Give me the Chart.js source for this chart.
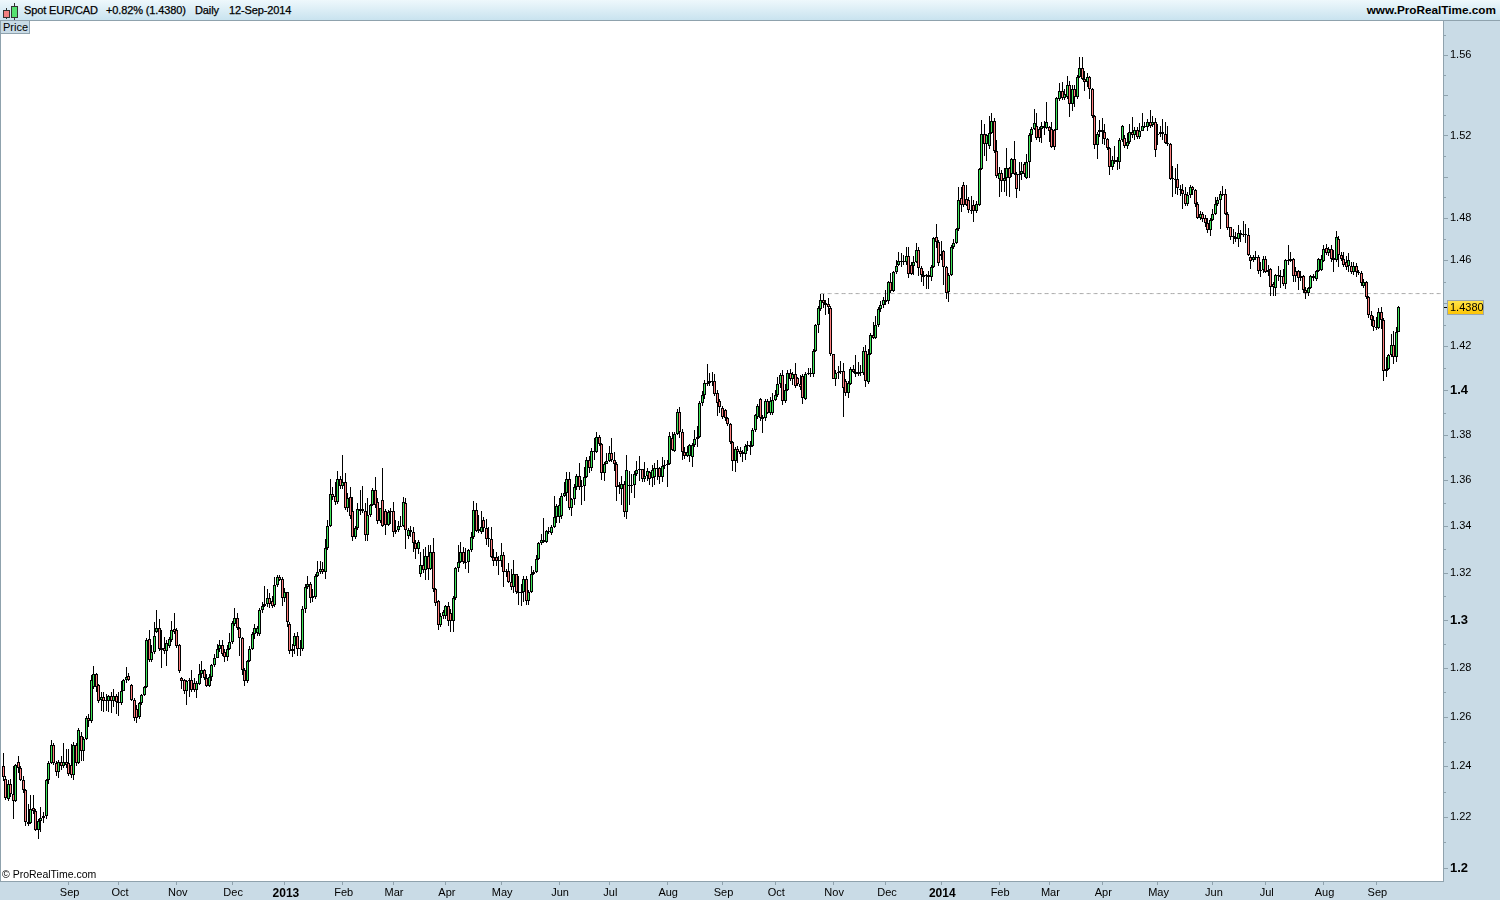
<!DOCTYPE html>
<html>
<head>
<meta charset="utf-8">
<title>Spot EUR/CAD</title>
<script src="https://cdn.jsdelivr.net/npm/chart.js@4/dist/chart.umd.min.js"></script>
<style>
    html, body { margin: 0; padding: 0; background: #c9dbe6; overflow: hidden; }
    body { width: 1500px; height: 900px; position: relative; font-family: "Liberation Sans", Arial, sans-serif; font-size: 11px; color: #000; }
    #priceChart { position: absolute; left: 0; top: 0; }
    #header { position: absolute; left: 0; top: 0; width: 1500px; height: 20px; background: linear-gradient(#eef8fc, #c9e3ef); border-bottom: 1px solid #8fa2ad; }
    #header span { position: absolute; top: 4px; white-space: nowrap; letter-spacing: -0.12px; -webkit-text-stroke: 0.25px #000; }
    #header #site { right: 4px; top: 3px; font-weight: bold; font-size: 11.75px; letter-spacing: 0; -webkit-text-stroke: 0; }
    .icon { position: absolute; border: 1px solid #333; }
    .iconWick { position: absolute; width: 1px; background: #333; }
    #priceTab { position: absolute; left: 1px; top: 21px; width: 26px; height: 12px; line-height: 12px; padding-left: 2px; background: #c9dbe6; border-right: 1px solid #8fa2ad; border-bottom: 1px solid #8fa2ad; }
    #copyright { position: absolute; left: 2px; top: 868px; font-size: 10.5px; }
</style>
</head>
<body>
<canvas id="priceChart" width="1500" height="900"></canvas>
<div id="header">
    <div class="iconWick" style="left:6px;top:8px;height:11px"></div>
    <div class="icon" style="left:3px;top:10px;width:5px;height:6px;background:#f08080"></div>
    <div class="iconWick" style="left:14px;top:3px;height:17px"></div>
    <div class="icon" style="left:11px;top:6px;width:5px;height:10px;background:#55e070"></div>
    <span style="left:24px">Spot EUR/CAD</span>
    <span style="left:106px">+0.82% (1.4380)</span>
    <span style="left:195px">Daily</span>
    <span style="left:229px">12-Sep-2014</span>
    <span id="site">www.ProRealTime.com</span>
</div>
<div id="priceTab">Price</div>
<div id="copyright">© ProRealTime.com</div>

<script>
// Daily candles, first one is 27-Jul-2012
const firstDate = '2012-07-27';
const slotCount = 573;

const opens = [
    1.2400,1.2350,1.2272,1.2329,1.2291,1.2264,1.2418,1.2393,1.2347,1.2305,
    1.2180,1.2177,1.2235,1.2222,1.2148,1.2182,1.2195,1.2204,1.2346,1.2415,
    1.2486,1.2415,1.2377,1.2418,1.2400,1.2418,1.2412,1.2405,1.2365,1.2486,
    1.2415,1.2522,1.2462,1.2512,1.2594,1.2582,1.2720,1.2775,1.2730,1.2667,
    1.2679,1.2670,1.2665,1.2685,1.2665,1.2685,1.2660,1.2655,1.2707,1.2751,
    1.2766,1.2732,1.2670,1.2630,1.2598,1.2655,1.2690,1.2722,1.2920,1.2832,
    1.2867,1.2950,1.2966,1.2885,1.2885,1.2870,1.2893,1.2918,1.2961,1.2960,
    1.2895,1.2760,1.2752,1.2705,1.2745,1.2750,1.2740,1.2708,1.2735,1.2775,
    1.2790,1.2760,1.2725,1.2765,1.2812,1.2843,1.2880,1.2895,1.2865,1.2845,
    1.2880,1.2908,1.2985,1.3008,1.2965,1.2925,1.2790,1.2745,1.2830,1.2880,
    1.2940,1.2945,1.2940,1.3040,1.3060,1.3066,1.3094,1.3082,1.3062,1.3147,
    1.3183,1.3173,1.3094,1.3116,1.2985,1.2870,1.2890,1.2934,1.2880,1.2880,
    1.3048,1.3140,1.3154,1.3091,1.3097,1.3187,1.3205,1.3215,1.3203,1.3305,
    1.3402,1.3540,1.3530,1.3505,1.3603,1.3574,1.3592,1.3480,1.3525,1.3465,
    1.3353,1.3392,1.3475,1.3475,1.3465,1.3363,1.3447,1.3490,1.3558,1.3505,
    1.3422,1.3513,1.3465,1.3405,1.3463,1.3465,1.3373,1.3385,1.3400,1.3402,
    1.3500,1.3356,1.3385,1.3375,1.3325,1.3300,1.3194,1.3233,1.3212,1.3273,
    1.3216,1.3287,1.3130,1.3078,1.2980,1.3016,1.3016,1.3060,1.3030,1.2994,
    1.3091,1.3220,1.3245,1.3287,1.3245,1.3247,1.3295,1.3352,1.3470,1.3380,
    1.3375,1.3425,1.3393,1.3350,1.3346,1.3267,1.3265,1.3250,1.3252,1.3277,
    1.3208,1.3208,1.3160,1.3140,1.3194,1.3118,1.3120,1.3116,1.3172,1.3080,
    1.3118,1.3195,1.3205,1.3260,1.3325,1.3340,1.3330,1.3380,1.3368,1.3397,
    1.3438,1.3440,1.3443,1.3530,1.3542,1.3607,1.3477,1.3516,1.3568,1.3620,
    1.3568,1.3574,1.3612,1.3691,1.3655,1.3728,1.3725,1.3791,1.3760,1.3630,
    1.3672,1.3685,1.3720,1.3690,1.3672,1.3578,1.3560,1.3585,1.3462,1.3580,
    1.3578,1.3578,1.3629,1.3645,1.3647,1.3607,1.3620,1.3636,1.3610,1.3612,
    1.3655,1.3655,1.3612,1.3661,1.3665,1.3670,1.3785,1.3730,1.3803,1.3901,
    1.3815,1.3725,1.3705,1.3705,1.3702,1.3755,1.3780,1.3790,1.3945,1.3980,
    1.4035,1.4035,1.4040,1.4040,1.3990,1.3950,1.3920,1.3912,1.3875,1.3850,
    1.3768,1.3685,1.3737,1.3730,1.3715,1.3715,1.3750,1.3757,1.3750,1.3820,
    1.3880,1.3960,1.3880,1.3875,1.3950,1.3900,1.3900,1.3958,1.3978,1.4030,
    1.4070,1.3950,1.4003,1.4080,1.4050,1.4075,1.4055,1.4030,1.4065,1.3960,
    1.4075,1.4080,1.4075,1.4178,1.4300,1.4372,1.4416,1.4400,1.4395,1.4378,
    1.4163,1.4053,1.4080,1.4085,1.4088,1.4040,1.3990,1.4030,1.4095,1.4085,
    1.4075,1.4082,1.4080,1.4180,1.4038,1.4165,1.4250,1.4240,1.4297,1.4372,
    1.4392,1.4415,1.4410,1.4500,1.4455,1.4543,1.4580,1.4595,1.4590,1.4590,
    1.4622,1.4580,1.4575,1.4590,1.4650,1.4565,1.4530,1.4525,1.4530,1.4520,
    1.4570,1.4710,1.4685,1.4630,1.4645,1.4570,1.4450,1.4530,1.4665,1.4680,
    1.4748,1.4895,1.4960,1.4892,1.4886,1.4840,1.4865,1.4832,1.4865,1.5037,
    1.5208,1.5158,1.5150,1.5212,1.5272,1.5125,1.4987,1.5016,1.4979,1.4992,
    1.5040,1.5013,1.5086,1.5011,1.5010,1.5011,1.5062,1.4995,1.5070,1.5204,
    1.5233,1.5245,1.5233,1.5233,1.5245,1.5238,1.5240,1.5233,1.5228,1.5228,
    1.5380,1.5419,1.5385,1.5390,1.5451,1.5354,1.5432,1.5391,1.5492,1.5533,
    1.5481,1.5465,1.5490,1.5428,1.5297,1.5155,1.5215,1.5225,1.5215,1.5185,
    1.5140,1.5045,1.5080,1.5070,1.5070,1.5178,1.5190,1.5150,1.5168,1.5218,
    1.5200,1.5225,1.5192,1.5223,1.5245,1.5240,1.5265,1.5250,1.5265,1.5205,
    1.5205,1.5215,1.5205,1.5165,1.5158,1.4990,1.4990,1.4990,1.4942,1.4935,
    1.4915,1.4868,1.4910,1.4950,1.4933,1.4870,1.4802,1.4820,1.4800,1.4778,
    1.4742,1.4790,1.4820,1.4868,1.4885,1.4918,1.4915,1.4822,1.4757,1.4712,
    1.4712,1.4700,1.4727,1.4720,1.4725,1.4722,1.4615,1.4600,1.4615,1.4615,
    1.4550,1.4552,1.4605,1.4555,1.4560,1.4490,1.4470,1.4530,1.4525,1.4527,
    1.4487,1.4600,1.4598,1.4605,1.4550,1.4550,1.4518,1.4525,1.4460,1.4445,
    1.4470,1.4515,1.4510,1.4550,1.4555,1.4598,1.4660,1.4635,1.4655,1.4612,
    1.4603,1.4700,1.4625,1.4605,1.4590,1.4575,1.4575,1.4545,1.4575,1.4545,
    1.4540,1.4480,1.4500,1.4428,1.4345,1.4322,1.4288,1.4285,1.4360,1.4322,
    1.4088,1.4098,1.4160,1.4205,1.4153,1.4267
];

const closes = [
    1.2357,1.2273,1.2329,1.2291,1.2264,1.2404,1.2393,1.2347,1.2305,1.2180,
    1.2172,1.2230,1.2222,1.2148,1.2182,1.2195,1.2205,1.2346,1.2415,1.2486,
    1.2415,1.2377,1.2418,1.2400,1.2418,1.2405,1.2368,1.2365,1.2486,1.2415,
    1.2547,1.2462,1.2512,1.2594,1.2582,1.2751,1.2775,1.2720,1.2665,1.2679,
    1.2665,1.2665,1.2685,1.2665,1.2685,1.2660,1.2655,1.2707,1.2751,1.2765,
    1.2752,1.2670,1.2595,1.2595,1.2655,1.2690,1.2722,1.2917,1.2832,1.2867,
    1.2935,1.2965,1.2880,1.2875,1.2870,1.2905,1.2920,1.2957,1.2950,1.2892,
    1.2787,1.2745,1.2705,1.2745,1.2750,1.2710,1.2708,1.2738,1.2775,1.2790,
    1.2758,1.2725,1.2765,1.2813,1.2843,1.2880,1.2895,1.2860,1.2845,1.2880,
    1.2908,1.2988,1.3008,1.2965,1.2925,1.2790,1.2745,1.2830,1.2880,1.2940,
    1.2968,1.2968,1.3040,1.3060,1.3066,1.3094,1.3066,1.3060,1.3147,1.3183,
    1.3170,1.3094,1.3116,1.2992,1.2870,1.2880,1.2934,1.2880,1.2885,1.3048,
    1.3140,1.3154,1.3091,1.3100,1.3187,1.3205,1.3215,1.3205,1.3305,1.3402,
    1.3540,1.3528,1.3505,1.3603,1.3574,1.3592,1.3480,1.3520,1.3444,1.3353,
    1.3392,1.3475,1.3465,1.3465,1.3363,1.3447,1.3490,1.3558,1.3492,1.3422,
    1.3477,1.3402,1.3405,1.3463,1.3465,1.3373,1.3385,1.3400,1.3402,1.3503,
    1.3382,1.3385,1.3375,1.3325,1.3300,1.3330,1.3233,1.3212,1.3273,1.3216,
    1.3287,1.3130,1.3073,1.2980,1.3016,1.3034,1.3060,1.2994,1.2994,1.3091,
    1.3220,1.3245,1.3287,1.3245,1.3247,1.3295,1.3352,1.3470,1.3380,1.3388,
    1.3397,1.3393,1.3346,1.3345,1.3267,1.3248,1.3248,1.3255,1.3277,1.3201,
    1.3202,1.3160,1.3140,1.3194,1.3118,1.3116,1.3115,1.3172,1.3080,1.3118,
    1.3194,1.3205,1.3260,1.3325,1.3340,1.3330,1.3380,1.3380,1.3397,1.3438,
    1.3487,1.3490,1.3530,1.3542,1.3607,1.3477,1.3516,1.3568,1.3617,1.3568,
    1.3575,1.3612,1.3691,1.3655,1.3728,1.3725,1.3791,1.3760,1.3630,1.3672,
    1.3685,1.3718,1.3688,1.3672,1.3568,1.3570,1.3585,1.3462,1.3643,1.3578,
    1.3580,1.3629,1.3645,1.3650,1.3607,1.3620,1.3640,1.3607,1.3643,1.3655,
    1.3650,1.3612,1.3661,1.3665,1.3670,1.3795,1.3735,1.3803,1.3901,1.3815,
    1.3725,1.3705,1.3722,1.3755,1.3755,1.3780,1.3790,1.3945,1.3980,1.4035,
    1.4035,1.4040,1.4040,1.3985,1.3945,1.3925,1.3880,1.3875,1.3850,1.3768,
    1.3685,1.3737,1.3725,1.3715,1.3722,1.3750,1.3757,1.3745,1.3820,1.3890,
    1.3930,1.3875,1.3872,1.3950,1.3900,1.3950,1.3958,1.3980,1.4030,1.4070,
    1.3950,1.4003,1.4080,1.4050,1.4075,1.4018,1.4030,1.4015,1.3965,1.4075,
    1.4080,1.4078,1.4178,1.4300,1.4378,1.4416,1.4400,1.4390,1.4380,1.4163,
    1.4053,1.4080,1.4085,1.4088,1.4010,1.3990,1.4033,1.4095,1.4085,1.4075,
    1.4085,1.4080,1.4180,1.4040,1.4165,1.4250,1.4240,1.4297,1.4372,1.4392,
    1.4415,1.4405,1.4500,1.4455,1.4543,1.4573,1.4595,1.4590,1.4595,1.4620,
    1.4535,1.4535,1.4590,1.4650,1.4565,1.4530,1.4520,1.4530,1.4520,1.4570,
    1.4705,1.4685,1.4585,1.4620,1.4570,1.4445,1.4530,1.4665,1.4680,1.4748,
    1.4886,1.4865,1.4865,1.4865,1.4840,1.4835,1.4832,1.4870,1.5035,1.5208,
    1.5158,1.5200,1.5212,1.5272,1.5125,1.5003,1.5016,1.4979,1.4995,1.5040,
    1.4995,1.5086,1.5011,1.4940,1.5011,1.5028,1.5011,1.5070,1.5204,1.5233,
    1.5260,1.5188,1.5188,1.5245,1.5235,1.5265,1.5220,1.5143,1.5143,1.5383,
    1.5419,1.5385,1.5405,1.5451,1.5354,1.5432,1.5391,1.5492,1.5533,1.5481,
    1.5465,1.5490,1.5428,1.5297,1.5155,1.5207,1.5225,1.5215,1.5185,1.5140,
    1.5045,1.5080,1.5070,1.5080,1.5178,1.5245,1.5147,1.5170,1.5217,1.5200,
    1.5225,1.5192,1.5223,1.5245,1.5248,1.5265,1.5245,1.5265,1.5130,1.5205,
    1.5215,1.5205,1.5165,1.5160,1.4990,1.4992,1.4990,1.4945,1.4935,1.4915,
    1.4870,1.4910,1.4950,1.4933,1.4870,1.4802,1.4820,1.4798,1.4775,1.4742,
    1.4790,1.4820,1.4868,1.4885,1.4918,1.4915,1.4822,1.4755,1.4712,1.4715,
    1.4700,1.4727,1.4720,1.4725,1.4720,1.4625,1.4595,1.4615,1.4610,1.4550,
    1.4552,1.4605,1.4545,1.4545,1.4475,1.4475,1.4530,1.4525,1.4527,1.4487,
    1.4600,1.4598,1.4605,1.4525,1.4525,1.4518,1.4525,1.4460,1.4445,1.4470,
    1.4525,1.4528,1.4550,1.4605,1.4605,1.4655,1.4635,1.4655,1.4608,1.4603,
    1.4708,1.4625,1.4605,1.4580,1.4568,1.4600,1.4545,1.4575,1.4545,1.4540,
    1.4495,1.4498,1.4430,1.4345,1.4320,1.4288,1.4285,1.4360,1.4322,1.4088,
    1.4098,1.4160,1.4205,1.4153,1.4267,1.4380
];

const highs = [
    1.2452,1.2360,1.2345,1.2350,1.2400,1.2410,1.2440,1.2400,1.2360,1.2310,
    1.2250,1.2285,1.2285,1.2230,1.2190,1.2240,1.2220,1.2350,1.2420,1.2505,
    1.2495,1.2420,1.2425,1.2440,1.2495,1.2470,1.2470,1.2490,1.2500,1.2495,
    1.2555,1.2540,1.2520,1.2605,1.2610,1.2770,1.2810,1.2780,1.2735,1.2700,
    1.2700,1.2695,1.2690,1.2700,1.2715,1.2695,1.2700,1.2745,1.2755,1.2805,
    1.2780,1.2735,1.2675,1.2650,1.2660,1.2695,1.2728,1.2925,1.2960,1.2895,
    1.2990,1.3040,1.3005,1.2960,1.2930,1.2915,1.2930,1.2995,1.3030,1.2965,
    1.2900,1.2765,1.2755,1.2750,1.2760,1.2790,1.2760,1.2745,1.2815,1.2830,
    1.2795,1.2775,1.2775,1.2817,1.2860,1.2900,1.2915,1.2915,1.2880,1.2895,
    1.2945,1.2995,1.3050,1.3030,1.2970,1.2930,1.2800,1.2835,1.2890,1.2950,
    1.2985,1.2975,1.3050,1.3075,1.3142,1.3130,1.3115,1.3100,1.3180,1.3190,
    1.3190,1.3180,1.3135,1.3120,1.2990,1.2900,1.2945,1.2950,1.2915,1.3060,
    1.3150,1.3185,1.3160,1.3130,1.3195,1.3250,1.3250,1.3245,1.3345,1.3425,
    1.3605,1.3570,1.3590,1.3640,1.3620,1.3710,1.3630,1.3545,1.3570,1.3525,
    1.3400,1.3500,1.3555,1.3575,1.3500,1.3520,1.3495,1.3565,1.3615,1.3520,
    1.3480,1.3655,1.3475,1.3470,1.3480,1.3505,1.3425,1.3420,1.3445,1.3525,
    1.3520,1.3392,1.3400,1.3395,1.3340,1.3340,1.3290,1.3300,1.3310,1.3320,
    1.3320,1.3350,1.3135,1.3085,1.3030,1.3040,1.3065,1.3075,1.3045,1.3100,
    1.3225,1.3320,1.3330,1.3310,1.3305,1.3300,1.3375,1.3510,1.3500,1.3450,
    1.3467,1.3440,1.3430,1.3395,1.3395,1.3300,1.3290,1.3270,1.3325,1.3290,
    1.3215,1.3240,1.3215,1.3255,1.3195,1.3185,1.3150,1.3185,1.3185,1.3125,
    1.3230,1.3212,1.3275,1.3330,1.3365,1.3435,1.3385,1.3395,1.3405,1.3530,
    1.3495,1.3520,1.3545,1.3590,1.3635,1.3635,1.3520,1.3585,1.3625,1.3675,
    1.3600,1.3660,1.3700,1.3705,1.3740,1.3785,1.3815,1.3800,1.3765,1.3680,
    1.3720,1.3750,1.3785,1.3725,1.3680,1.3590,1.3620,1.3595,1.3710,1.3640,
    1.3625,1.3640,1.3685,1.3705,1.3650,1.3680,1.3655,1.3640,1.3665,1.3675,
    1.3690,1.3660,1.3700,1.3690,1.3690,1.3815,1.3815,1.3815,1.3915,1.3925,
    1.3825,1.3745,1.3750,1.3760,1.3765,1.3820,1.3840,1.3950,1.3995,1.4045,
    1.4120,1.4080,1.4085,1.4075,1.4000,1.3960,1.3930,1.3915,1.3880,1.3855,
    1.3775,1.3745,1.3750,1.3745,1.3735,1.3760,1.3775,1.3775,1.3830,1.3895,
    1.3940,1.3965,1.3890,1.3960,1.3960,1.3970,1.3990,1.4000,1.4060,1.4080,
    1.4090,1.4030,1.4090,1.4095,1.4085,1.4125,1.4060,1.4070,1.4075,1.4085,
    1.4100,1.4100,1.4190,1.4305,1.4385,1.4442,1.4440,1.4415,1.4425,1.4385,
    1.4165,1.4090,1.4110,1.4135,1.4125,1.4050,1.4040,1.4105,1.4115,1.4160,
    1.4130,1.4115,1.4195,1.4205,1.4190,1.4260,1.4310,1.4340,1.4380,1.4410,
    1.4430,1.4460,1.4505,1.4540,1.4550,1.4600,1.4640,1.4635,1.4625,1.4665,
    1.4665,1.4590,1.4620,1.4680,1.4665,1.4575,1.4550,1.4535,1.4550,1.4580,
    1.4710,1.4770,1.4695,1.4690,1.4650,1.4575,1.4540,1.4670,1.4700,1.4752,
    1.4951,1.4950,1.4975,1.4960,1.4900,1.4905,1.4885,1.4880,1.5040,1.5275,
    1.5255,1.5205,1.5295,1.5310,1.5285,1.5180,1.5045,1.5030,1.5040,1.5140,
    1.5045,1.5090,1.5175,1.5020,1.5070,1.5070,1.5070,1.5110,1.5210,1.5240,
    1.5330,1.5310,1.5240,1.5265,1.5270,1.5365,1.5245,1.5265,1.5230,1.5390,
    1.5460,1.5465,1.5430,1.5495,1.5470,1.5450,1.5450,1.5500,1.5590,1.5590,
    1.5520,1.5510,1.5495,1.5435,1.5300,1.5215,1.5275,1.5285,1.5255,1.5190,
    1.5145,1.5100,1.5150,1.5095,1.5190,1.5250,1.5200,1.5210,1.5255,1.5290,
    1.5240,1.5240,1.5260,1.5310,1.5265,1.5280,1.5325,1.5295,1.5285,1.5255,
    1.5245,1.5280,1.5265,1.5245,1.5165,1.5050,1.5040,1.5060,1.4960,1.4965,
    1.4950,1.4925,1.4960,1.4955,1.4940,1.4875,1.4835,1.4830,1.4815,1.4800,
    1.4800,1.4845,1.4900,1.4900,1.4930,1.4955,1.4940,1.4830,1.4760,1.4750,
    1.4735,1.4765,1.4745,1.4785,1.4770,1.4755,1.4625,1.4625,1.4645,1.4625,
    1.4590,1.4620,1.4620,1.4580,1.4565,1.4500,1.4535,1.4575,1.4555,1.4560,
    1.4605,1.4670,1.4640,1.4610,1.4570,1.4555,1.4550,1.4530,1.4475,1.4475,
    1.4530,1.4535,1.4555,1.4610,1.4625,1.4670,1.4675,1.4665,1.4670,1.4650,
    1.4740,1.4715,1.4640,1.4640,1.4620,1.4635,1.4590,1.4590,1.4585,1.4555,
    1.4550,1.4510,1.4505,1.4435,1.4365,1.4340,1.4335,1.4375,1.4380,1.4330,
    1.4150,1.4165,1.4255,1.4270,1.4290,1.4387
];

const lows = [
    1.2340,1.2265,1.2262,1.2280,1.2190,1.2260,1.2375,1.2340,1.2295,1.2165,
    1.2165,1.2170,1.2210,1.2145,1.2115,1.2140,1.2175,1.2190,1.2330,1.2410,
    1.2405,1.2360,1.2355,1.2385,1.2395,1.2395,1.2360,1.2355,1.2345,1.2400,
    1.2410,1.2420,1.2420,1.2505,1.2560,1.2575,1.2715,1.2700,1.2655,1.2625,
    1.2620,1.2625,1.2620,1.2615,1.2640,1.2610,1.2605,1.2650,1.2705,1.2740,
    1.2745,1.2665,1.2585,1.2575,1.2590,1.2650,1.2685,1.2718,1.2825,1.2825,
    1.2860,1.2945,1.2870,1.2800,1.2860,1.2810,1.2885,1.2910,1.2940,1.2885,
    1.2780,1.2715,1.2695,1.2650,1.2680,1.2700,1.2700,1.2675,1.2730,1.2760,
    1.2750,1.2720,1.2720,1.2745,1.2805,1.2840,1.2865,1.2850,1.2825,1.2830,
    1.2875,1.2900,1.2975,1.2960,1.2850,1.2770,1.2725,1.2740,1.2825,1.2875,
    1.2920,1.2935,1.2935,1.3030,1.3055,1.3055,1.3050,1.3050,1.3055,1.3140,
    1.3165,1.3060,1.3075,1.2970,1.2860,1.2845,1.2860,1.2850,1.2850,1.2870,
    1.3030,1.3130,1.3070,1.3075,1.3090,1.3180,1.3195,1.3195,1.3175,1.3295,
    1.3395,1.3515,1.3490,1.3495,1.3560,1.3560,1.3470,1.3460,1.3430,1.3335,
    1.3345,1.3385,1.3450,1.3455,1.3335,1.3335,1.3440,1.3485,1.3480,1.3410,
    1.3415,1.3395,1.3360,1.3400,1.3410,1.3355,1.3365,1.3375,1.3395,1.3395,
    1.3300,1.3345,1.3355,1.3290,1.3260,1.3280,1.3180,1.3200,1.3170,1.3170,
    1.3210,1.3120,1.3060,1.2960,1.2970,1.3005,1.3005,1.2975,1.2950,1.2950,
    1.3085,1.3205,1.3240,1.3235,1.3215,1.3200,1.3290,1.3345,1.3375,1.3370,
    1.3365,1.3375,1.3320,1.3310,1.3262,1.3230,1.3230,1.3190,1.3225,1.3140,
    1.3180,1.3155,1.3125,1.3115,1.3110,1.3065,1.3060,1.3075,1.3065,1.3065,
    1.3112,1.3190,1.3200,1.3255,1.3320,1.3325,1.3325,1.3365,1.3360,1.3390,
    1.3415,1.3415,1.3430,1.3525,1.3510,1.3470,1.3445,1.3490,1.3555,1.3555,
    1.3490,1.3510,1.3610,1.3630,1.3640,1.3690,1.3720,1.3750,1.3600,1.3595,
    1.3670,1.3680,1.3680,1.3640,1.3510,1.3540,1.3490,1.3440,1.3430,1.3490,
    1.3545,1.3520,1.3620,1.3595,1.3590,1.3590,1.3595,1.3580,1.3570,1.3580,
    1.3600,1.3585,1.3590,1.3650,1.3570,1.3665,1.3730,1.3725,1.3800,1.3785,
    1.3690,1.3695,1.3700,1.3680,1.3660,1.3745,1.3745,1.3785,1.3930,1.3960,
    1.4020,1.4020,1.4020,1.3975,1.3883,1.3900,1.3870,1.3860,1.3840,1.3760,
    1.3640,1.3635,1.3675,1.3700,1.3680,1.3690,1.3730,1.3710,1.3745,1.3815,
    1.3870,1.3860,1.3810,1.3860,1.3895,1.3890,1.3890,1.3950,1.3970,1.4010,
    1.3935,1.3945,1.3995,1.4040,1.4025,1.4010,1.4020,1.4000,1.3940,1.3955,
    1.4070,1.4060,1.4060,1.4175,1.4260,1.4365,1.4375,1.4345,1.4350,1.4155,
    1.4050,1.4020,1.4050,1.4075,1.3880,1.3975,1.3965,1.4025,1.4080,1.4060,
    1.4065,1.4065,1.4070,1.4015,1.4030,1.4160,1.4235,1.4235,1.4290,1.4360,
    1.4375,1.4390,1.4395,1.4445,1.4450,1.4535,1.4575,1.4570,1.4580,1.4580,
    1.4515,1.4530,1.4530,1.4585,1.4525,1.4500,1.4480,1.4465,1.4465,1.4505,
    1.4565,1.4660,1.4575,1.4600,1.4485,1.4420,1.4403,1.4525,1.4655,1.4675,
    1.4740,1.4830,1.4855,1.4860,1.4825,1.4820,1.4780,1.4825,1.4860,1.5030,
    1.5100,1.5075,1.5135,1.5205,1.5115,1.4995,1.4900,1.4925,1.4925,1.4905,
    1.4900,1.5000,1.5005,1.4895,1.4930,1.4985,1.5000,1.4990,1.4995,1.5170,
    1.5225,1.5180,1.5170,1.5165,1.5200,1.5230,1.5170,1.5140,1.5130,1.5225,
    1.5370,1.5375,1.5375,1.5380,1.5290,1.5320,1.5340,1.5380,1.5485,1.5475,
    1.5420,1.5440,1.5380,1.5285,1.5135,1.5085,1.5195,1.5160,1.5155,1.5130,
    1.5005,1.5030,1.5060,1.5030,1.5035,1.5170,1.5140,1.5135,1.5160,1.5190,
    1.5180,1.5185,1.5185,1.5220,1.5235,1.5220,1.5235,1.5240,1.5095,1.5155,
    1.5195,1.5180,1.5160,1.5150,1.4985,1.4900,1.4915,1.4910,1.4905,1.4845,
    1.4860,1.4860,1.4895,1.4910,1.4855,1.4795,1.4790,1.4780,1.4760,1.4730,
    1.4715,1.4785,1.4815,1.4860,1.4750,1.4905,1.4815,1.4745,1.4695,1.4675,
    1.4685,1.4665,1.4685,1.4710,1.4680,1.4620,1.4560,1.4590,1.4600,1.4535,
    1.4520,1.4540,1.4540,1.4525,1.4435,1.4435,1.4435,1.4505,1.4470,1.4480,
    1.4465,1.4580,1.4590,1.4500,1.4500,1.4460,1.4505,1.4445,1.4420,1.4435,
    1.4465,1.4505,1.4505,1.4545,1.4550,1.4590,1.4625,1.4620,1.4590,1.4545,
    1.4590,1.4570,1.4595,1.4570,1.4555,1.4545,1.4535,1.4530,1.4520,1.4530,
    1.4480,1.4470,1.4420,1.4330,1.4295,1.4270,1.4275,1.4280,1.4280,1.4040,
    1.4060,1.4090,1.4150,1.4120,1.4130,1.4265
];

// Bottom axis
const tickDates = ['2012-09-03','2012-10-01','2012-11-01','2012-12-03','2013-01-01','2013-02-01','2013-03-01','2013-04-01','2013-05-01',
    '2013-06-03','2013-07-01','2013-08-01','2013-09-02','2013-10-01','2013-11-01','2013-12-02','2014-01-01','2014-02-03','2014-03-03',
    '2014-04-01','2014-05-01','2014-06-02','2014-07-01','2014-08-01','2014-09-01'];
const tickLabels = ['Sep','Oct','Nov','Dec','2013','Feb','Mar','Apr','May','Jun','Jul','Aug','Sep','Oct','Nov','Dec','2014','Feb','Mar','Apr','May','Jun','Jul','Aug','Sep'];

// Price axis
const yTicks = [1.2,1.21,1.22,1.23,1.24,1.25,1.26,1.27,1.28,1.29,1.3,1.31,1.32,1.33,1.34,1.35,1.36,1.37,1.38,1.39,
    1.4,1.41,1.42,1.43,1.44,1.45,1.46,1.47,1.48,1.49,1.5,1.51,1.52,1.53,1.54,1.55,1.56,1.57];
const yLabelled = [1.2,1.22,1.24,1.26,1.28,1.3,1.32,1.34,1.36,1.38,1.4,1.42,1.46,1.48,1.52,1.56];
const yBold = [1.2,1.3,1.4];
const yMin = 1.1950;
const yMax = 1.5772;

// Dashed level and last price
const levelValue = 1.4444;
const levelStartDate = '2013-10-25';
const lastPrice = 1.4380;

// Weekdays only, same spacing as the candles
const dates = [];
for (let t = Date.parse(firstDate + 'T00:00:00Z'); dates.length < slotCount; t += 86400000) {
    const day = new Date(t).getUTCDay();
    if (day !== 0 && day !== 6) dates.push(new Date(t).toISOString().slice(0, 10));
}

const AXIS_LINE = '#8fa2ad';

// White plot area with its frame
const plotBackground = {
    id: 'plotBackground',
    beforeDraw(chart) {
        const { ctx, chartArea: a } = chart;
        ctx.save();
        ctx.fillStyle = '#ffffff';
        ctx.fillRect(a.left - 1, a.top, a.right - a.left + 1, a.bottom - a.top);
        ctx.strokeStyle = AXIS_LINE;
        ctx.lineWidth = 1;
        ctx.strokeRect(0.5, a.top - 0.5, a.right, a.bottom - a.top + 1);
        ctx.restore();
    }
};

// Keep candles on whole pixels so they stay crisp
const snapCandles = {
    id: 'snapCandles',
    beforeDatasetsDraw(chart) {
        chart.data.datasets.forEach((ds, i) => {
            if (ds.type === 'line') return;
            chart.getDatasetMeta(i).data.forEach(el => {
                el.x = Math.floor(el.x) + 0.5;
                el.y = Math.round(el.y);
                el.base = Math.round(el.base);
                if (el.y === el.base) el.base = el.y + 1;
            });
        });
    }
};

// Price axis tick marks and the last price tag
const priceAxisMarks = {
    id: 'priceAxisMarks',
    afterDraw(chart) {
        const { ctx, scales: { y } } = chart;
        const left = y.left + 1;
        ctx.save();
        ctx.strokeStyle = AXIS_LINE;
        yTicks.forEach((v, i) => {
            const py = Math.round(y.getPixelForValue(v)) + 0.5;
            ctx.beginPath();
            ctx.moveTo(left, py);
            ctx.lineTo(left + (i % 2 === 0 ? 4 : 2), py);
            ctx.stroke();
        });

        const tagY = Math.round(y.getPixelForValue(lastPrice));
        ctx.strokeStyle = '#000000';
        ctx.beginPath();
        ctx.moveTo(left, tagY + 0.5);
        ctx.lineTo(left + 4, tagY + 0.5);
        ctx.stroke();

        const grad = ctx.createLinearGradient(0, tagY - 7, 0, tagY + 8);
        grad.addColorStop(0, '#ffe64d');
        grad.addColorStop(1, '#fcc200');
        ctx.fillStyle = grad;
        ctx.fillRect(1447.5, tagY - 6.5, 36, 14);
        ctx.strokeStyle = '#9aa6ad';
        ctx.strokeRect(1447.5, tagY - 6.5, 36, 14);
        ctx.fillStyle = '#000000';
        ctx.font = '11px "Liberation Sans", Arial, sans-serif';
        ctx.textAlign = 'left';
        ctx.textBaseline = 'middle';
        ctx.fillText(lastPrice.toFixed(4), 1450, tagY + 1);
        ctx.restore();
    }
};

const levelStart = dates.indexOf(levelStartDate);

new Chart(document.getElementById('priceChart'), {
    type: 'bar',
    data: {
        labels: dates,
        datasets: [
            {
                // bodies, on top of the wicks
                label: 'Body',
                data: opens.map((o, i) => [o, closes[i]]),
                backgroundColor: ctx => {
                    const i = ctx.dataIndex;
                    return closes[i] >= opens[i] ? '#3ee65a' : '#ff7f7f';
                },
                borderColor: '#000000',
                borderWidth: 1,
                borderSkipped: false,
                inflateAmount: 0,
                barThickness: 3,
                grouped: false,
                order: 1
            },
            {
                label: 'Wick',
                data: lows.map((l, i) => [l, highs[i]]),
                backgroundColor: '#000000',
                borderWidth: 0,
                inflateAmount: 0,
                barThickness: 1,
                grouped: false,
                order: 2
            },
            {
                type: 'line',
                label: 'Level',
                data: dates.map((d, i) => (i >= levelStart ? levelValue : null)),
                borderColor: '#aaaaaa',
                borderWidth: 1,
                borderDash: [4, 3],
                pointRadius: 0,
                order: 3
            }
        ]
    },
    plugins: [plotBackground, snapCandles, priceAxisMarks],
    options: {
        responsive: false,
        animation: false,
        events: [],
        layout: { padding: { top: 21, left: 2, right: 0, bottom: 0 } },
        plugins: { legend: { display: false }, tooltip: { enabled: false }, title: { display: false } },
        scales: {
            x: {
                type: 'category',
                offset: true,
                afterFit: scale => { scale.height = 19; },
                afterBuildTicks: scale => {
                    scale.ticks = tickDates.map((d, i) => ({
                        value: dates.indexOf(d),
                        major: /^\d{4}$/.test(tickLabels[i])
                    }));
                },
                border: { display: false },
                grid: { drawOnChartArea: false, drawTicks: true, tickLength: 4, tickColor: AXIS_LINE, offset: false },
                ticks: {
                    autoSkip: false,
                    maxRotation: 0,
                    padding: 1,
                    labelOffset: 1,
                    color: '#000000',
                    font: ctx => (ctx.tick && ctx.tick.major
                        ? { family: '"Liberation Sans", Arial, sans-serif', size: 12, weight: 'bold' }
                        : { family: '"Liberation Sans", Arial, sans-serif', size: 11 }),
                    callback: (value, index) => tickLabels[index]
                }
            },
            y: {
                type: 'logarithmic',
                position: 'right',
                min: yMin,
                max: yMax,
                afterFit: scale => { scale.width = 57; },
                afterBuildTicks: scale => {
                    scale.ticks = yTicks.map(v => ({ value: v, major: yBold.includes(v) }));
                },
                border: { display: false },
                grid: { drawOnChartArea: false, drawTicks: false },
                ticks: {
                    autoSkip: false,
                    padding: 7,
                    color: '#000000',
                    font: ctx => (ctx.tick && ctx.tick.major
                        ? { family: '"Liberation Sans", Arial, sans-serif', size: 13, weight: 'bold' }
                        : { family: '"Liberation Sans", Arial, sans-serif', size: 11 }),
                    callback: value => (yLabelled.includes(value) ? String(value) : '')
                }
            }
        }
    }
});
</script>
</body>
</html>
